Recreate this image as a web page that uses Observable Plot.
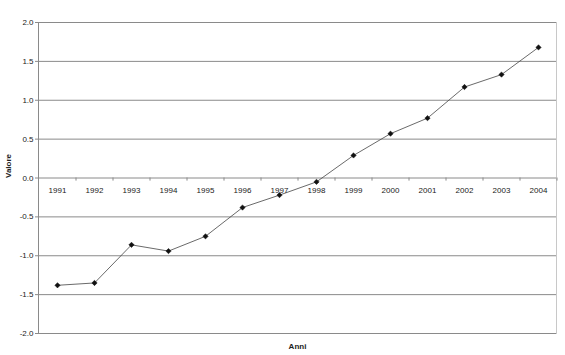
<!DOCTYPE html>
<html>
<head>
<meta charset="utf-8">
<script src="https://cdn.jsdelivr.net/npm/d3@7"></script>
<script src="https://cdn.jsdelivr.net/npm/@observablehq/plot@0.6"></script>
<style>
  body { margin: 0; background: #fff; }
  svg { font-family: "Liberation Sans", Arial, sans-serif; }
</style>
</head>
<body>
<div id="chart"></div>
<script>
const years = ["1991","1992","1993","1994","1995","1996","1997","1998","1999","2000","2001","2002","2003","2004"];
const values = [-1.38, -1.35, -0.86, -0.94, -0.75, -0.38, -0.22, -0.05, 0.29, 0.57, 0.77, 1.17, 1.33, 1.68];
const yTicks = [-2, -1.5, -1, -0.5, 0, 0.5, 1, 1.5, 2];

const data = years.map((y, i) => ({year: y, value: values[i]}));

const chart = Plot.plot({
  width: 565,
  height: 355,
  marginLeft: 38,
  marginRight: 9,
  marginTop: 22,
  marginBottom: 22,
  style: {fontFamily: "Liberation Sans", fontSize: "8px", color: "#333", background: "#fff"},
  x: {type: "point", domain: years, padding: 0.5, axis: null},
  y: {domain: [-2, 2], axis: null},
  marks: [
    Plot.ruleY(yTicks, {stroke: "#8a8a8a", strokeWidth: 1}),
    Plot.frame({anchor: "left", stroke: "#8a8a8a"}),
    Plot.frame({anchor: "right", stroke: "#c8c8c8"}),
    Plot.axisY({ticks: yTicks, tickFormat: d => d.toFixed(1), tickSize: 3, tickPadding: 2, stroke: "#8a8a8a", fill: "#222", label: null}),
    Plot.ruleX(years, {x: d => d, y1: 0, y2: -0.04, dx: 18.5, stroke: "#8a8a8a"}),
    Plot.text(years, {x: d => d, y: 0, dy: 12, text: d => d, fill: "#222", fontSize: 8}),
    Plot.line(data, {x: "year", y: "value", stroke: "#444", strokeWidth: 0.8}),
    Plot.dot(data, {x: "year", y: "value", symbol: "diamond2", r: 2.4, fill: "#111", stroke: "#111", strokeWidth: 0.5}),
    Plot.text(["Valore"], {frameAnchor: "left", dx: -30, rotate: -90, text: d => d, fontWeight: "bold", fill: "#222", fontSize: 8}),
    Plot.text(["Anni"], {frameAnchor: "bottom", dy: 15, text: d => d, fontWeight: "bold", fill: "#222", fontSize: 8})
  ]
});
document.getElementById("chart").appendChild(chart);
</script>
</body>
</html>
